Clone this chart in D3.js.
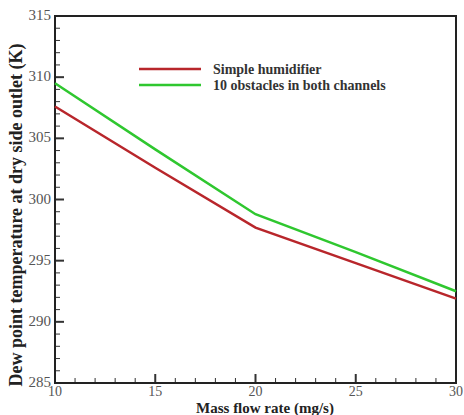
<!DOCTYPE html>
<html>
<head>
<meta charset="utf-8">
<script src="https://cdn.jsdelivr.net/npm/d3@7"></script>
<style>
body { margin: 0; background: #fff; }
text { font-family: "Liberation Serif", "DejaVu Serif", serif; }
</style>
</head>
<body>
<script>
var width = 464;
var height = 415;

// data
var flowRate = [10, 15, 20, 25, 30];
var simpleHum = [307.6, 302.6, 297.7, 294.8, 291.9];
var obstacles = [309.5, 304.1, 298.8, 295.7, 292.5];
var seriesNames = ["Simple humidifier", "10 obstacles in both channels"];
var seriesColors = ["#b8262b", "#2fc72f"];
var xTicks = [10, 15, 20, 25, 30];
var yTicks = [285, 290, 295, 300, 305, 310, 315];

var pLeft = 55, pRight = 456, pTop = 16, pBottom = 383;

var svg = d3.select("body")
    .append("svg")
    .attr("width", width)
    .attr("height", height);

var x = d3.scaleLinear().domain([10, 30]).range([pLeft, pRight]);
var y = d3.scaleLinear().domain([285, 315]).range([pBottom, pTop]);

// minor ticks
var xMinor = d3.range(10, 30.01, 1);
var yMinor = d3.range(285, 315.01, 1);

svg.selectAll(".xmin").data(xMinor).enter().append("line")
    .attr("x1", function(d){ return x(d); })
    .attr("x2", function(d){ return x(d); })
    .attr("y1", pBottom)
    .attr("y2", function(d){ return xTicks.indexOf(d) >= 0 ? pBottom - 9 : pBottom - 5; })
    .attr("stroke", "#333")
    .attr("stroke-width", function(d){ return xTicks.indexOf(d) >= 0 ? 2 : 1; });

svg.selectAll(".ymin").data(yMinor).enter().append("line")
    .attr("x1", pLeft)
    .attr("x2", function(d){ return yTicks.indexOf(d) >= 0 ? pLeft + 9 : pLeft + 5; })
    .attr("y1", function(d){ return y(d); })
    .attr("y2", function(d){ return y(d); })
    .attr("stroke", "#333")
    .attr("stroke-width", function(d){ return yTicks.indexOf(d) >= 0 ? 2 : 1; });

// frame
svg.append("rect")
    .attr("x", pLeft)
    .attr("y", pTop)
    .attr("width", pRight - pLeft)
    .attr("height", pBottom - pTop)
    .attr("fill", "none")
    .attr("stroke", "#222")
    .attr("stroke-width", 2);

// tick labels
svg.selectAll(".xl").data(xTicks).enter().append("text")
    .attr("x", function(d){ return x(d); })
    .attr("y", pBottom + 13)
    .attr("text-anchor", "middle")
    .attr("font-size", 14)
    .attr("fill", "#555")
    .text(function(d){ return d; });

svg.selectAll(".yl").data(yTicks).enter().append("text")
    .attr("x", pLeft - 4)
    .attr("y", function(d){ return y(d) + 4; })
    .attr("text-anchor", "end")
    .attr("font-size", 15)
    .attr("fill", "#555")
    .text(function(d){ return d; });

// axis titles
svg.append("text")
    .attr("x", 265)
    .attr("y", 413)
    .attr("text-anchor", "middle")
    .attr("font-size", 15)
    .attr("font-weight", "bold")
    .attr("fill", "#222")
    .text("Mass flow rate (mg/s)");

svg.append("text")
    .attr("transform", "translate(22,215) rotate(-90)")
    .attr("text-anchor", "middle")
    .attr("font-size", 18)
    .attr("font-weight", "bold")
    .attr("fill", "#222")
    .text("Dew point temperature at dry side outlet (K)");

// lines
var line = d3.line()
    .x(function(d, i){ return x(flowRate[i]); })
    .y(function(d){ return y(d); });

[simpleHum, obstacles].forEach(function(s, i){
    svg.append("path")
        .attr("d", line(s))
        .attr("fill", "none")
        .attr("stroke", seriesColors[i])
        .attr("stroke-width", 2.5);
});

// legend
seriesNames.forEach(function(n, i){
    var ly = 69 + i * 16;
    svg.append("line")
        .attr("x1", 139).attr("x2", 201)
        .attr("y1", ly).attr("y2", ly)
        .attr("stroke", seriesColors[i])
        .attr("stroke-width", 2.5);
    svg.append("text")
        .attr("x", 213)
        .attr("y", ly + 5)
        .attr("font-size", 14)
        .attr("font-weight", "bold")
        .attr("fill", "#333")
        .text(n);
});
</script>
</body>
</html>
